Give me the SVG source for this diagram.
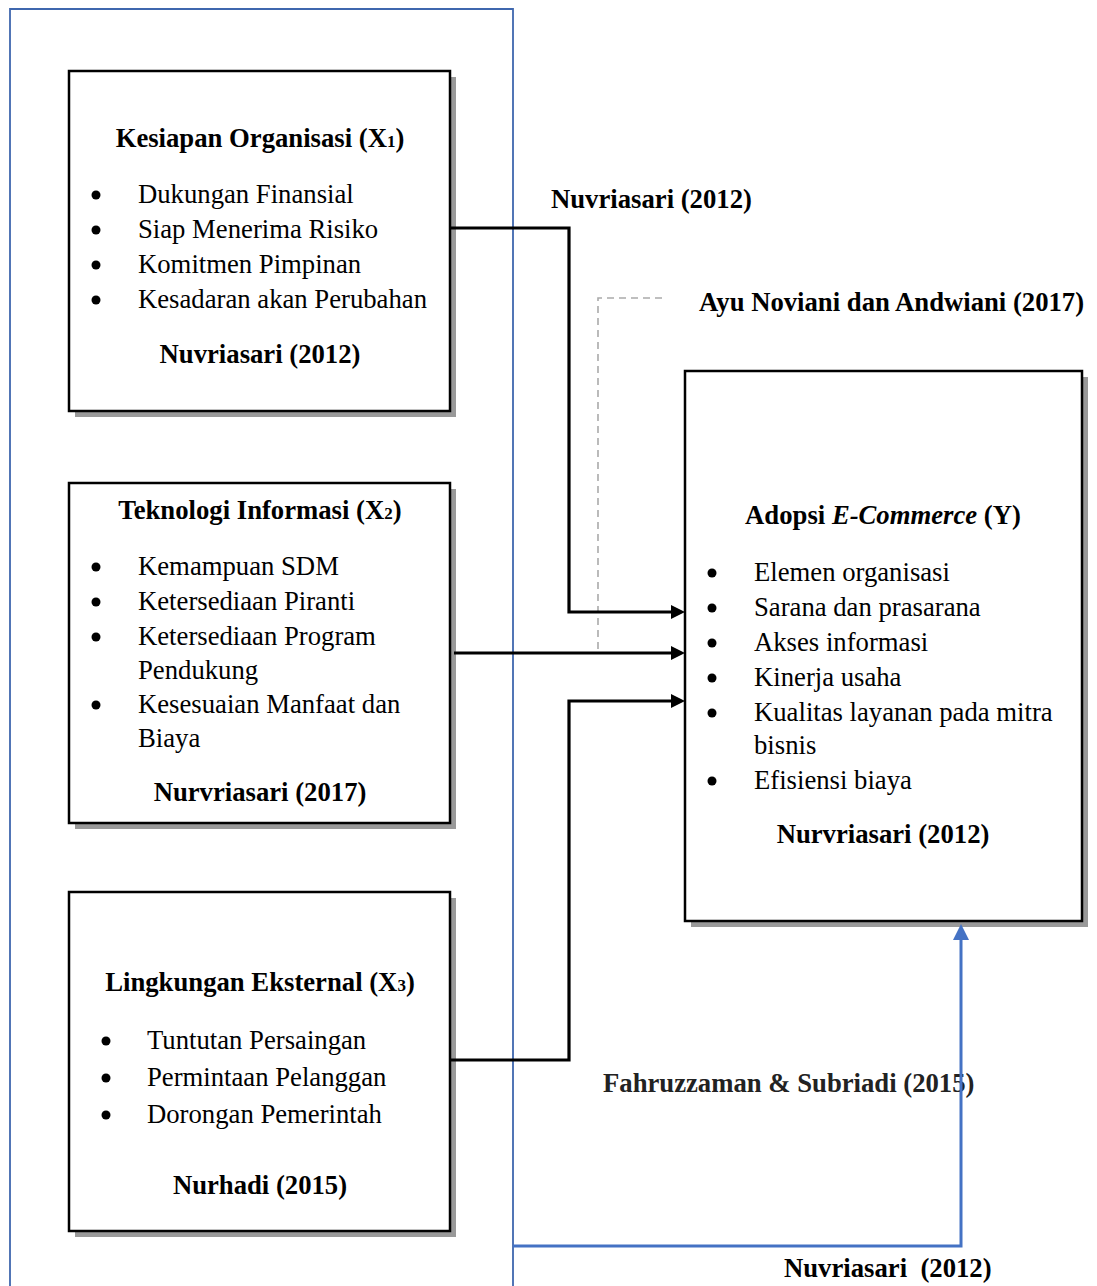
<svg xmlns="http://www.w3.org/2000/svg" width="1097" height="1286" viewBox="0 0 1097 1286">
<defs>
<style>
text{font-family:"Liberation Serif","Times New Roman",serif;font-size:26.7px;fill:#000}
.b{font-weight:bold}
.c{text-anchor:middle}
.lbl{font-weight:bold;white-space:pre}
.box{fill:#fff;stroke:#000;stroke-width:2.5}
.sh{fill:#999}
.dot{fill:#000}
.con{fill:none;stroke:#000;stroke-width:3.2}
.dash{fill:none;stroke:#aaa;stroke-width:1.6;stroke-dasharray:7,5}
.blue{fill:none;stroke:#4472c4;stroke-width:3}
.frame{fill:none;stroke:#3f67ae;stroke-width:1.8}
</style>
<marker id="ah" markerUnits="userSpaceOnUse" markerWidth="14" markerHeight="14" refX="4" refY="7" orient="auto"><path d="M0,0 L14,7 L0,14 z" fill="#000"/></marker>
<marker id="ahb" markerUnits="userSpaceOnUse" markerWidth="16" markerHeight="16" refX="5" refY="8" orient="auto"><path d="M0,0 L16,8 L0,16 z" fill="#4472c4"/></marker>
</defs>
<rect width="1097" height="1286" fill="#fff"/>
<path class="frame" d="M10,1286 V9 H513 V1286"/>

<g id="x1">
<rect class="sh" x="75" y="77" width="381" height="340"/>
<rect class="box" x="69" y="71" width="381" height="340"/>
<text class="b c" x="260" y="147">Kesiapan Organisasi (X<tspan font-size="17">1</tspan>)</text>
<circle class="dot" cx="96" cy="195" r="4.5"/><text x="138" y="203">Dukungan Finansial</text>
<circle class="dot" cx="96" cy="230" r="4.5"/><text x="138" y="238">Siap Menerima Risiko</text>
<circle class="dot" cx="96" cy="265" r="4.5"/><text x="138" y="273">Komitmen Pimpinan</text>
<circle class="dot" cx="96" cy="300" r="4.5"/><text x="138" y="308">Kesadaran akan Perubahan</text>
<text class="b c" x="260" y="363">Nuvriasari (2012)</text>
</g>

<g id="x2">
<rect class="sh" x="75" y="489" width="381" height="340"/>
<rect class="box" x="69" y="483" width="381" height="340"/>
<text class="b c" x="260" y="519">Teknologi Informasi (X<tspan font-size="17">2</tspan>)</text>
<circle class="dot" cx="96" cy="567" r="4.5"/><text x="138" y="575">Kemampuan SDM</text>
<circle class="dot" cx="96" cy="602" r="4.5"/><text x="138" y="610">Ketersediaan Piranti</text>
<circle class="dot" cx="96" cy="637" r="4.5"/><text x="138" y="645">Ketersediaan Program</text>
<text x="138" y="679">Pendukung</text>
<circle class="dot" cx="96" cy="705" r="4.5"/><text x="138" y="713">Kesesuaian Manfaat dan</text>
<text x="138" y="747">Biaya</text>
<text class="b c" x="260" y="801">Nurvriasari (2017)</text>
</g>

<g id="x3">
<rect class="sh" x="75" y="898" width="381" height="339"/>
<rect class="box" x="69" y="892" width="381" height="339"/>
<text class="b c" x="260" y="991">Lingkungan Eksternal (X<tspan font-size="17">3</tspan>)</text>
<circle class="dot" cx="106" cy="1041" r="4.5"/><text x="147" y="1049">Tuntutan Persaingan</text>
<circle class="dot" cx="106" cy="1078" r="4.5"/><text x="147" y="1086">Permintaan Pelanggan</text>
<circle class="dot" cx="106" cy="1115" r="4.5"/><text x="147" y="1123">Dorongan Pemerintah</text>
<text class="b c" x="260" y="1194">Nurhadi (2015)</text>
</g>

<g id="y">
<rect class="sh" x="691" y="377" width="397" height="550"/>
<rect class="box" x="685" y="371" width="397" height="550"/>
<text class="b c" x="883" y="524">Adopsi <tspan font-style="italic">E-Commerce</tspan> (Y)</text>
<circle class="dot" cx="712" cy="573" r="4.5"/><text x="754" y="581">Elemen organisasi</text>
<circle class="dot" cx="712" cy="608" r="4.5"/><text x="754" y="616">Sarana dan prasarana</text>
<circle class="dot" cx="712" cy="643" r="4.5"/><text x="754" y="651">Akses informasi</text>
<circle class="dot" cx="712" cy="678" r="4.5"/><text x="754" y="686">Kinerja usaha</text>
<circle class="dot" cx="712" cy="713" r="4.5"/><text x="754" y="721">Kualitas layanan pada mitra</text>
<text x="754" y="754">bisnis</text>
<circle class="dot" cx="712" cy="781" r="4.5"/><text x="754" y="789">Efisiensi biaya</text>
<text class="b c" x="883" y="843">Nurvriasari (2012)</text>
</g>

<g id="labels">
<text class="lbl" x="551" y="208">Nuvriasari (2012)</text>
<text class="lbl" x="699" y="311">Ayu Noviani dan Andwiani (2017)</text>
<text class="lbl" x="603" y="1092" style="fill:#222">Fahruzzaman &amp; Subriadi (2015)</text>
<text class="lbl" x="784" y="1277">Nuvriasari  (2012)</text>
</g>

<g id="connectors">
<path class="dash" d="M662,298 H598 V653"/>
<path class="con" d="M451,228 H569 V612 H675" marker-end="url(#ah)"/>
<path class="con" d="M454,653 H675" marker-end="url(#ah)"/>
<path class="con" d="M451,1060 H569 V701 H675" marker-end="url(#ah)"/>
<path class="blue" d="M513,1246 H961 V935" marker-end="url(#ahb)"/>
</g>
</svg>
